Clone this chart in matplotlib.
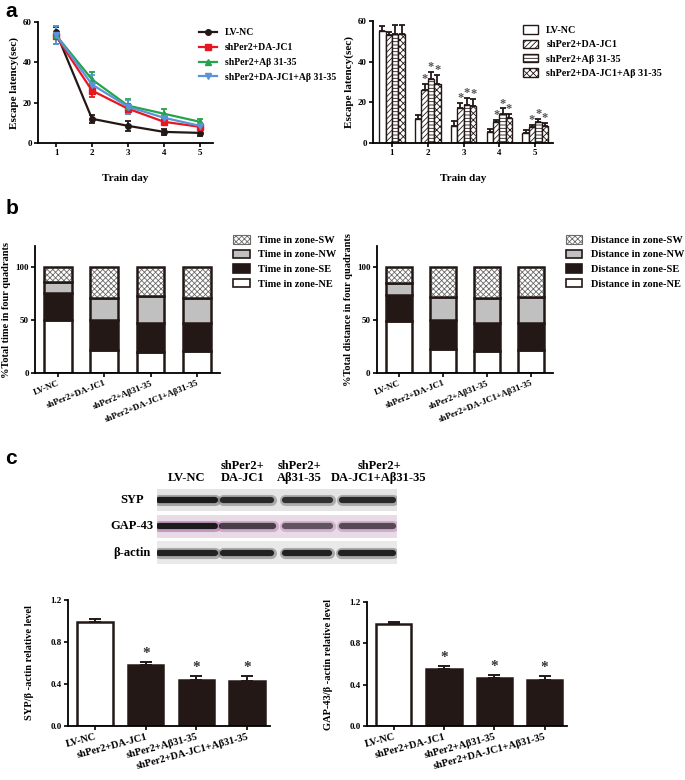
import matplotlib.pyplot as plt
import numpy as np
from matplotlib.patches import Patch, Rectangle
from matplotlib.lines import Line2D

plt.rcParams['font.family'] = ['Liberation Serif', 'DejaVu Serif']
plt.rcParams['font.weight'] = 'bold'
plt.rcParams['axes.labelweight'] = 'bold'
plt.rcParams['axes.linewidth'] = 1.3
plt.rcParams['hatch.linewidth'] = 0.6

# ---- panel a : escape latency
days = [1, 2, 3, 4, 5]
groups_a = ['LV-NC', 'shPer2+DA-JC1', 'shPer2+Aβ 31-35', 'shPer2+DA-JC1+Aβ 31-35']
latency = [[55, 12, 8.5, 5.5, 5],
           [53, 26, 17, 10.5, 8],
           [53.5, 31.5, 18.5, 14.5, 10.5],
           [53.5, 29, 18, 12.5, 8.5]]
latency_err = [[2.5, 2, 2.5, 1.5, 1.5],
               [1.5, 3, 2.5, 0.7, 1],
               [4.5, 3.5, 3.5, 2.5, 1.5],
               [4.5, 4.5, 3.5, 2, 1.5]]

# ---- panel b : quadrant occupancy (bottom -> top: NE, SE, NW, SW)
groups = ['LV-NC', 'shPer2+DA-JC1', 'shPer2+Aβ31-35', 'shPer2+DA-JC1+Aβ31-35']
zones = ['NE', 'SE', 'NW', 'SW']
time_pct = [[50, 22, 20, 21],
            [26, 28, 27, 26],
            [10, 21, 26, 24],
            [14, 29, 27, 29]]
dist_pct = [[49, 23, 21, 22],
            [25, 27, 26, 25],
            [11, 22, 24, 25],
            [15, 28, 29, 28]]

# ---- panel c : western blot
proteins = ['SYP', 'GAP-43', 'β-actin']
blot_headers = ['LV-NC', 'shPer2+\nDA-JC1', 'shPer2+\nAβ31-35', 'shPer2+\nDA-JC1+Aβ31-35']
band_intensity = [[1.0, 0.9, 0.85, 0.9],
                  [1.0, 0.75, 0.62, 0.68],
                  [0.95, 0.95, 0.95, 0.95]]
band_width = [[0.93, 0.8, 0.75, 0.85],
              [0.93, 0.85, 0.75, 0.85],
              [0.93, 0.8, 0.73, 0.87]]
syp = [0.99, 0.58, 0.44, 0.43]
syp_err = [0.03, 0.03, 0.035, 0.05]
gap43 = [0.99, 0.55, 0.46, 0.45]
gap43_err = [0.02, 0.03, 0.035, 0.03]

dark = '#231815'
line_colors = [dark, '#e8161e', '#23a34a', '#5b93d8']
markers = ['o', 's', '^', 'v']
hatches = [None, '//////', '-----', 'xxxxx']


def style(ax, fs=6.5):
    for s in ['top', 'right']:
        ax.spines[s].set_visible(False)
    ax.tick_params(width=1.2, length=3, labelsize=fs, pad=1.5)


fig = plt.figure(figsize=(6.85, 7.8), dpi=100)

# ===== a left: line plot
ax = fig.add_axes([0.0555, 0.8167, 0.2555, 0.155])
for i in range(4):
    ax.errorbar(days, latency[i], yerr=latency_err[i], color=line_colors[i],
                marker=markers[i], markersize=4, lw=1.6, capsize=2.5,
                capthick=1.3, elinewidth=1.3)
ax.set_xlim(0.5, 5.36)
ax.set_ylim(0, 60)
ax.set_yticks([0, 20, 40, 60])
ax.set_xticks(days)
style(ax)
ax.set_ylabel('Escape latency(sec)', fontsize=8, labelpad=3)
ax.set_xlabel('Train day', fontsize=8, labelpad=12)
lh = [Line2D([], [], color=line_colors[i], marker=markers[i], markersize=4, lw=1.6)
      for i in range(4)]
ax.legend(lh, groups_a, loc='upper left', bbox_to_anchor=(0.9, 0.98), frameon=False,
          fontsize=7, handlelength=1.8, labelspacing=0.6, borderaxespad=0)

# ===== a right: grouped hatched bars
ax = fig.add_axes([0.5445, 0.8167, 0.263, 0.156])
x = np.array(days, dtype=float)
w = 0.18
for i in range(4):
    xs = x + (i - 1.5) * w
    ax.bar(xs, latency[i], w, color='white', edgecolor=dark, hatch=hatches[i], lw=0)
    ax.bar(xs, latency[i], w, color='none', edgecolor=dark, lw=1.0)
    ax.errorbar(xs, latency[i], yerr=[np.zeros(5), latency_err[i]], fmt='none',
                ecolor=dark, elinewidth=1.3, capsize=2, capthick=1.3)
    if i > 0:
        for j in range(1, 5):
            ax.text(xs[j], latency[i][j] + latency_err[i][j] - 0.5, '*',
                    ha='center', va='bottom', fontsize=9, color='#555555')
ax.set_xlim(0.47, 5.5)
ax.set_ylim(0, 60)
ax.set_yticks([0, 20, 40, 60])
ax.set_xticks(days)
style(ax)
ax.set_ylabel('Escape latency(sec)', fontsize=8, labelpad=3)
ax.set_xlabel('Train day', fontsize=8, labelpad=12)
h = [Patch(facecolor='white', edgecolor=dark, hatch=hatches[i], lw=1.0) for i in range(4)]
ax.legend(h, groups_a, loc='upper left', bbox_to_anchor=(0.81, 1.0), frameon=False,
          fontsize=7.3, handlelength=1.5, handleheight=0.9, labelspacing=0.45,
          borderaxespad=0)


# ===== b: stacked bars
def stacked(ax, data, title_word, ylabel):
    xs = np.arange(4)
    bottom = np.zeros(4)
    fills = ['white', dark, '#c0c0c0', 'white']
    handles = []
    for k in range(4):
        vals = np.array(data[k], dtype=float)
        if zones[k] == 'SW':
            ax.bar(xs, vals, 0.6, bottom=bottom, color='white', edgecolor='#6a6a6a',
                   hatch='xxxxxx', lw=0)
            ax.bar(xs, vals, 0.6, bottom=bottom, color='none', edgecolor=dark, lw=1.8)
            hd = Patch(facecolor='white', edgecolor='#6a6a6a', hatch='xxxxxx', lw=0.8)
        else:
            ax.bar(xs, vals, 0.6, bottom=bottom, color=fills[k], edgecolor=dark, lw=1.8)
            hd = Patch(facecolor=fills[k], edgecolor=dark, lw=1.2)
        handles.append(hd)
        bottom += vals
    ax.set_xlim(-0.5, 3.5)
    ax.set_ylim(0, 120)
    ax.set_yticks([0, 50, 100])
    ax.set_xticks(xs)
    ax.set_xticklabels(groups, rotation=22, ha='right', rotation_mode='anchor')
    style(ax)
    ax.set_ylabel(ylabel, fontsize=7.5, labelpad=3)
    labels = ['%s in zone-%s' % (title_word, z) for z in zones]
    ax.legend(handles[::-1], labels[::-1], loc='upper left', bbox_to_anchor=(1.05, 1.12),
              frameon=False, fontsize=7.5, handlelength=1.6, handleheight=0.9,
              labelspacing=0.45, borderaxespad=0)


ax = fig.add_axes([0.0511, 0.5218, 0.27, 0.1628])
stacked(ax, time_pct, 'Time', '%Total time in four quadrants')
ax = fig.add_axes([0.55, 0.5218, 0.257, 0.1628])
stacked(ax, dist_pct, 'Distance', '%Total distance in four quadrants')

# ===== c: western blot
ax = fig.add_axes([0.2292, 0.2744, 0.3504, 0.1013])
ax.set_xlim(-0.5, 3.5)
ax.set_ylim(2.5, -0.5)
ax.axis('off')
strip_colors = ['#e4e4e4', '#e8dbe6', '#e9e9e9']
halo_colors = ['#555555', '#a04a98', '#555555']
for r in range(3):
    ax.add_patch(Rectangle((-0.5, r - 0.43), 4.0, 0.86, facecolor=strip_colors[r],
                           edgecolor='none'))
    for i in range(4):
        half = band_width[r][i] / 2
        a = band_intensity[r][i]
        ax.plot([i - half, i + half], [r, r], color=halo_colors[r], lw=8,
                alpha=0.45 * a, solid_capstyle='round')
        ax.plot([i - half, i + half], [r, r], color='#1a1a1a', lw=4.5,
                alpha=a, solid_capstyle='round')
    ax.text(-0.92, r, proteins[r], ha='center', va='center', fontsize=9)
header_shift = [0, -0.07, -0.13, 0.2]
for i in range(4):
    ax.text(i + header_shift[i], -0.62, blot_headers[i], ha='center', va='bottom',
            fontsize=9, linespacing=1.0)


# ===== c: quantification bars
def quant(ax, vals, errs, ylabel):
    xs = np.arange(4)
    colors = ['white', dark, dark, dark]
    ax.bar(xs, vals, 0.7, color=colors, edgecolor=dark, lw=1.8)
    ax.errorbar(xs, vals, yerr=[np.zeros(4), errs], fmt='none', ecolor=dark,
                elinewidth=1.4, capsize=4, capthick=1.4)
    for i in range(1, 4):
        ax.text(xs[i], vals[i] + errs[i] + 0.02, '*', ha='center', va='bottom',
                fontsize=11, color='#333333')
    ax.set_xlim(-0.53, 3.45)
    ax.set_ylim(0, 1.2)
    ax.set_yticks([0, 0.4, 0.8, 1.2])
    ax.set_yticklabels(['0.0', '0.4', '0.8', '1.2'])
    ax.set_xticks(xs)
    ax.set_xticklabels(groups, rotation=15, ha='right', rotation_mode='anchor',
                       fontsize=7.5)
    style(ax)
    ax.tick_params(axis='x', labelsize=7.5)
    ax.set_ylabel(ylabel, fontsize=7.5, labelpad=12)


ax = fig.add_axes([0.0993, 0.0692, 0.295, 0.1615])
quant(ax, syp, syp_err, 'SYP/β -actin relative level')
ax = fig.add_axes([0.536, 0.0692, 0.292, 0.159])
quant(ax, gap43, gap43_err, 'GAP-43/β -actin relative level')

# panel letters
for letter, y in [('a', 0.998), ('b', 0.745), ('c', 0.425)]:
    fig.text(0.008, y, letter, fontsize=15, fontweight='bold', family='Liberation Sans',
             va='top')

fig.savefig('out.png', dpi=100)
